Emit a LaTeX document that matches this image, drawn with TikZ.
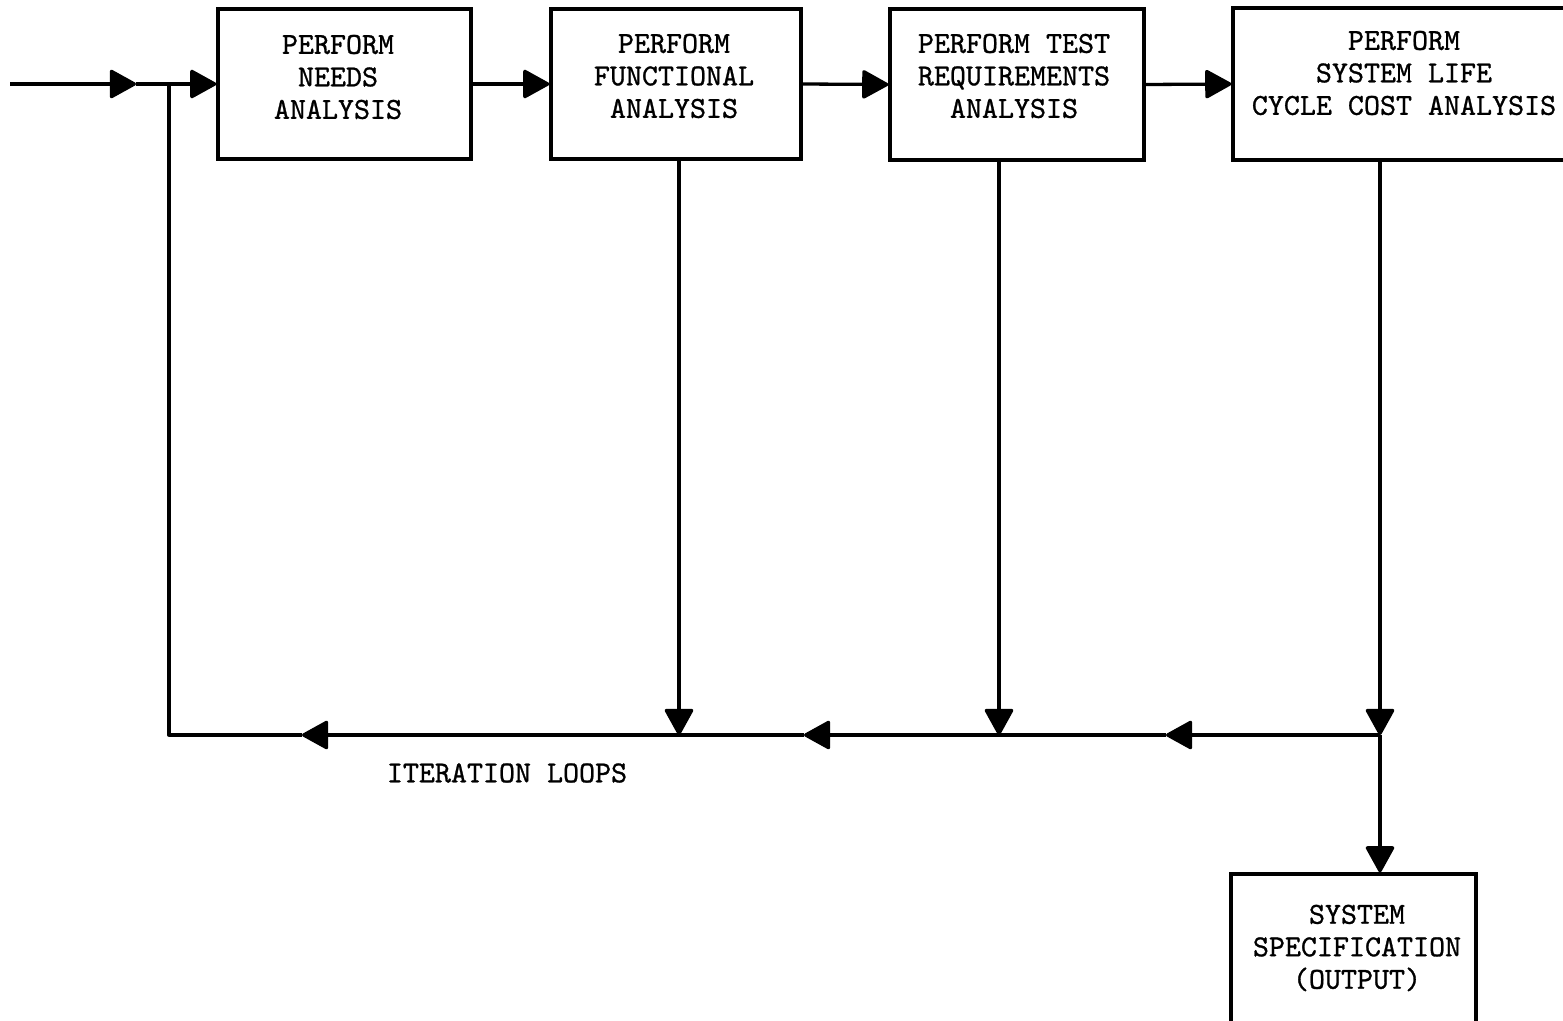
\documentclass[tikz,border=0pt]{standalone}
\usepackage{fontspec}
\newfontfamily\twfont{lmmono10-regular.otf}[FakeBold=0.9]
\usetikzlibrary{arrows.meta}
\begin{document}
\begin{tikzpicture}[x=1pt,y=-1pt,
  line width=3.3pt,
  every node/.style={font=\twfont\fontsize{30.5}{32.5}\selectfont},
  box/.style={draw,line width=3.3pt,rectangle,inner sep=0pt},
  txt/.style={align=center,inner sep=0pt},
  arr/.style={-{Triangle[length=28pt,width=30pt,round]}},
]
\useasboundingbox (0,0) rectangle (1563,1020);
% boxes
\node[box,minimum width=253pt,minimum height=150pt] (n1) at (344.5,84) {};
\node[box,minimum width=250pt,minimum height=150pt] (n2) at (676,84) {};
\node[box,minimum width=254pt,minimum height=151pt] (n3) at (1017,84.5) {};
\node[box,minimum width=336pt,minimum height=152pt] (n4) at (1401,84) {};
\node[box,minimum width=245pt,minimum height=152pt] (n5) at (1353.5,950) {};
% texts
\node[txt] (t1) at (338,77) {PERFORM\\NEEDS\\ANALYSIS};
\node[txt] (t2) at (674,76) {PERFORM\\FUNCTIONAL\\ANALYSIS};
\node[txt] (t3) at (1014,76) {PERFORM TEST\\REQUIREMENTS\\ANALYSIS};
\node[txt] (t4) at (1404,73) {PERFORM\\SYSTEM LIFE\\CYCLE COST ANALYSIS};
\node[txt] (t5) at (1357,948) {SYSTEM\\SPECIFICATION\\(OUTPUT)};
\node[txt] (lab) at (507,773) {ITERATION LOOPS};
% coordinates
\coordinate (in) at (10,84);
\coordinate (m0) at (136,84);
\coordinate (j) at (169,84);
\coordinate (jb) at (169,735);
\coordinate (b2) at (679,735);
\coordinate (b3) at (999,735);
\coordinate (b4) at (1380,735);
\coordinate (a1) at (302,735);
\coordinate (a2) at (804,735);
\coordinate (a3) at (1166,735);
% top flow
\draw[arr] (in) -- (m0);
\draw (m0) -- (j);
\draw[arr] (j) -- (n1.west);
\draw[arr] (n1.east) -- (n2.west);
\draw[arr] (n2.east) -- (n3.west);
\draw[arr] (n3.east) -- (n4.west);
% verticals
\draw[arr] (b2 |- n2.south) -- (b2);
\draw[arr] (b3 |- n3.south) -- (b3);
\draw[arr] (b4 |- n4.south) -- (b4);
\draw[arr] (b4) -- (b4 |- n5.north);
% bottom loop
\draw[arr] (b4) -- (a3);
\draw[arr] (a3) -- (a2);
\draw[arr] (a2) -- (a1);
\draw[line join=round] (a1) -- (jb) -- (j);
\end{tikzpicture}
\end{document}
